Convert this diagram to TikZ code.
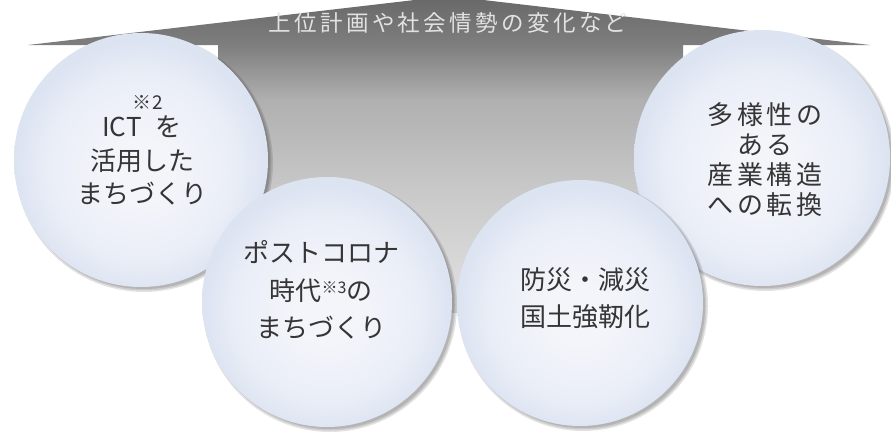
\documentclass[tikz,border=0pt]{standalone}
\usepackage{fontspec}
\newfontfamily\jp{Noto Sans CJK JP}
\newfontfamily\jptop[LetterSpace=15]{Noto Sans CJK JP}
\newfontfamily\jpwide[LetterSpace=13]{Noto Sans CJK JP}
\definecolor{bubin}{HTML}{F3F5FA}
\definecolor{bubmid}{HTML}{EAEEF7}
\definecolor{bubout}{HTML}{DCE3F1}
\definecolor{txt}{HTML}{353535}
\definecolor{toptxt}{HTML}{E2E2E2}
\definecolor{arA}{HTML}{E2E2E2}
\definecolor{arB}{HTML}{CBCBCB}
\definecolor{arC}{HTML}{B0B0B0}
\definecolor{arD}{HTML}{7E7E7E}
\definecolor{arE}{HTML}{686868}
\pgfdeclareradialshading{bub}{\pgfpoint{0bp}{-2.5bp}}{color(0bp)=(bubin); color(6bp)=(bubin); color(18bp)=(bubmid); color(25bp)=(bubout); color(50bp)=(bubout)}
\pgfdeclareverticalshading{arrowshade}{100bp}{color(0bp)=(arA); color(25bp)=(arA); color(42.8bp)=(arB); color(58.6bp)=(arC); color(67.25bp)=(arD); color(75bp)=(arE); color(100bp)=(arE)}
\begin{document}
\begin{tikzpicture}[x=1pt,y=-1pt,
  bubble/.style={circle, minimum size=#1, inner sep=0pt, outer sep=0pt, shading=bub},
  shadowc/.style={fill=black, opacity=0.11},
  bubtext/.style={text=txt, align=center, inner sep=0pt},
  small/.style={text=txt, inner sep=0pt, font=\jp\fontsize{19}{19}\selectfont}]
\useasboundingbox (0,0) rectangle (891,431);
% big arrow
\shade[shading=arrowshade] (449,-4) -- (870,45) -- (683,45) -- (683,313)
  -- (218,313) -- (218,45) -- (28,45) -- cycle;
\node[text=toptxt, inner sep=0pt, font=\jptop\fontsize{22.5}{22.5}\selectfont] (top) at (448,23) {上位計画や社会情勢の変化など};
% centres
\coordinate (p1) at (141,160);
\coordinate (p4) at (762,158);
\coordinate (p2) at (327,302);
\coordinate (p3) at (580,303);
% circle 1
\foreach \d in {0,1.5,3} \fill[shadowc] ([shift={(3,3)}]p1) circle[radius=126pt+\d pt];
\node[bubble=254pt] (c1) at (p1) {};
% circle 4
\foreach \d in {0,1.5,3} \fill[shadowc] ([shift={(3,3)}]p4) circle[radius=127pt+\d pt];
\node[bubble=256pt] (c4) at (p4) {};
% circle 2
\foreach \d in {0,1.5,3} \fill[shadowc] ([shift={(3,3)}]p2) circle[radius=124pt+\d pt];
\node[bubble=250pt] (c2) at (p2) {};
% circle 3
\foreach \d in {0,1.5,3} \fill[shadowc] ([shift={(3,3)}]p3) circle[radius=122pt+\d pt];
\node[bubble=246pt] (c3) at (p3) {};
% texts
\node[bubtext, font=\jp\fontsize{26}{33.5}\selectfont] (t1) at (142,160.5) {ICT\hspace{14pt}を\\活用した\\まちづくり};
\node[small] (n2) at (148,102) {※\hspace{1pt}2};
\node[bubtext, font=\jp\fontsize{26}{37.5}\selectfont] (t2) at (321,290) {ポストコロナ\\時代\raisebox{7pt}{\fontsize{16}{16}\selectfont ※3}の\\まちづくり};
\node[bubtext, font=\jp\fontsize{26}{37}\selectfont] (t3) at (585,298.5) {防災・減災\\国土強靭化};
\node[bubtext, font=\jpwide\fontsize{26}{30}\selectfont] (t4) at (765,160) {多様性の\\ある\\産業構造\\への転換};
\end{tikzpicture}
\end{document}
